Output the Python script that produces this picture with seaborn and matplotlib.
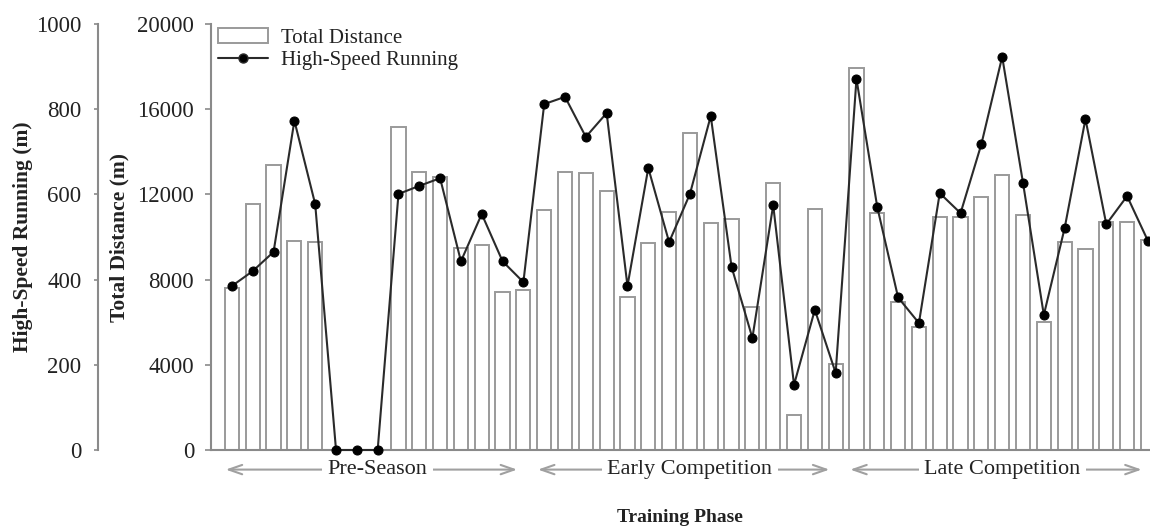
import matplotlib
matplotlib.use("Agg")
import matplotlib.pyplot as plt
import seaborn as sns
import numpy as np
from matplotlib.patches import Patch
from matplotlib.lines import Line2D
from matplotlib.transforms import blended_transform_factory

# session data (45 sessions, 15 per training phase)
sessions = list(range(45))
total_distance = [7600, 11550, 13380, 9830, 9770, 0, 0, 0, 15170, 13050,
                  12800, 9480, 9620, 7420, 7510, 11270, 13050, 13020, 12140, 7160,
                  9720, 11170, 14860, 10680, 10830, 6730, 12540, 1640, 11310, 4060,
                  17950, 11150, 6950, 5780, 10940, 10940, 11880, 12910, 11030, 6010,
                  9770, 9440, 10700, 10700, 9860]
high_speed = [385, 420, 465, 773, 577, 0, 0, 0, 601, 620,
              638, 443, 554, 443, 394, 812, 829, 735, 791, 385,
              662, 488, 601, 784, 430, 263, 575, 153, 329, 181,
              871, 570, 358, 298, 603, 556, 718, 923, 627, 317,
              521, 777, 530, 596, 491]
phases = ["Pre-Season", "Early Competition", "Late Competition"]
phase_first = [0, 15, 30]
phase_last = [14, 29, 44]

td_ticks = [0, 4000, 8000, 12000, 16000, 20000]
hsr_ticks = [0, 200, 400, 600, 800, 1000]

sns.set_theme(style="white")
plt.rcParams['font.family'] = ['Liberation Serif', 'DejaVu Serif']

W, H = 1150, 528
fig = plt.figure(figsize=(W / 100, H / 100), dpi=100)
ax = fig.add_axes([210.7 / W, 78 / H, (W - 210.7) / W, 426 / H])

spine_col = '#8a8a8a'
text_col = '#222222'

sns.barplot(x=sessions, y=total_distance, ax=ax, color='white',
            edgecolor='#9a9a9a', linewidth=1.4, width=0.68, saturation=1)
ax.set_xlim(-1.02, 44.1)
ax.set_ylim(0, 20000)
ax.set_yticks(td_ticks)
ax.set_xticks([])
ax.tick_params(axis='y', direction='out', length=4, width=1.2, color=spine_col,
               pad=8, labelsize=16.5, labelcolor=text_col, left=True)
for s in ['top', 'right']:
    ax.spines[s].set_visible(False)
for s in ['left', 'bottom']:
    ax.spines[s].set_color(spine_col)
    ax.spines[s].set_linewidth(1.5)
ax.set_ylabel('Total Distance (m)', fontsize=15.5, fontweight='bold', color=text_col)
ax.yaxis.set_label_coords(-0.086, 0.5)

# high-speed running on a twin axis with its spine moved far left
ax2 = ax.twinx()
sns.lineplot(x=sessions, y=high_speed, ax=ax2, color='#2a2a2a', linewidth=1.5,
             marker='o', markersize=6.5, markerfacecolor='black',
             markeredgecolor='black', clip_on=False)
ax2.set_ylim(0, 1000)
ax2.set_yticks(hsr_ticks)
ax2.yaxis.set_ticks_position('left')
ax2.yaxis.set_label_position('left')
ax2.spines['left'].set_position(('axes', (98 - 210.7) / (W - 210.7)))
ax2.spines['left'].set_color(spine_col)
ax2.spines['left'].set_linewidth(1.5)
for s in ['top', 'right', 'bottom']:
    ax2.spines[s].set_visible(False)
ax2.tick_params(axis='y', direction='out', length=3, width=1.2, color=spine_col,
                pad=9, labelsize=16.5, labelcolor=text_col, left=True, right=False)
ax2.set_ylabel('High-Speed Running (m)', fontsize=15.5, fontweight='bold', color=text_col)
ax2.yaxis.set_label_coords(-0.189, 0.5)

ax.set_xlabel('Training Phase', fontsize=14, fontweight='bold', color=text_col)
ax.xaxis.set_label_coords(0.5, -0.138)

# phase arrows under the axis
trans = blended_transform_factory(ax.transData, ax.transAxes)
for name, first, last in zip(phases, phase_first, phase_last):
    x0 = first - 0.3
    x1 = min(last - 0.3, 44.05)
    ax.annotate('', xy=(x0, -0.046), xytext=(x1, -0.046), xycoords=trans,
                textcoords=trans, annotation_clip=False,
                arrowprops=dict(arrowstyle='<->,head_length=0.8,head_width=0.28',
                                color='#a0a0a0', lw=1.5, shrinkA=0, shrinkB=0))
    ax.text((first + last) / 2, -0.046, name, transform=trans, ha='center',
            va='center', fontsize=16, color=text_col,
            bbox=dict(boxstyle='square,pad=0.25', fc='white', ec='none'))

handles = [Patch(facecolor='white', edgecolor='#9a9a9a', linewidth=1.4),
           Line2D([], [], color='#2a2a2a', linewidth=1.5, marker='o',
                  markersize=6.5, markerfacecolor='black')]
leg = ax2.legend(handles, ['Total Distance', 'High-Speed Running'], loc='upper left',
                 bbox_to_anchor=(0.008, 0.99), frameon=False, fontsize=15,
                 handlelength=2.4, handletextpad=0.6, labelspacing=0.12,
                 borderpad=0, borderaxespad=0)
for t in leg.get_texts():
    t.set_color(text_col)

fig.savefig('out.png', dpi=100)
